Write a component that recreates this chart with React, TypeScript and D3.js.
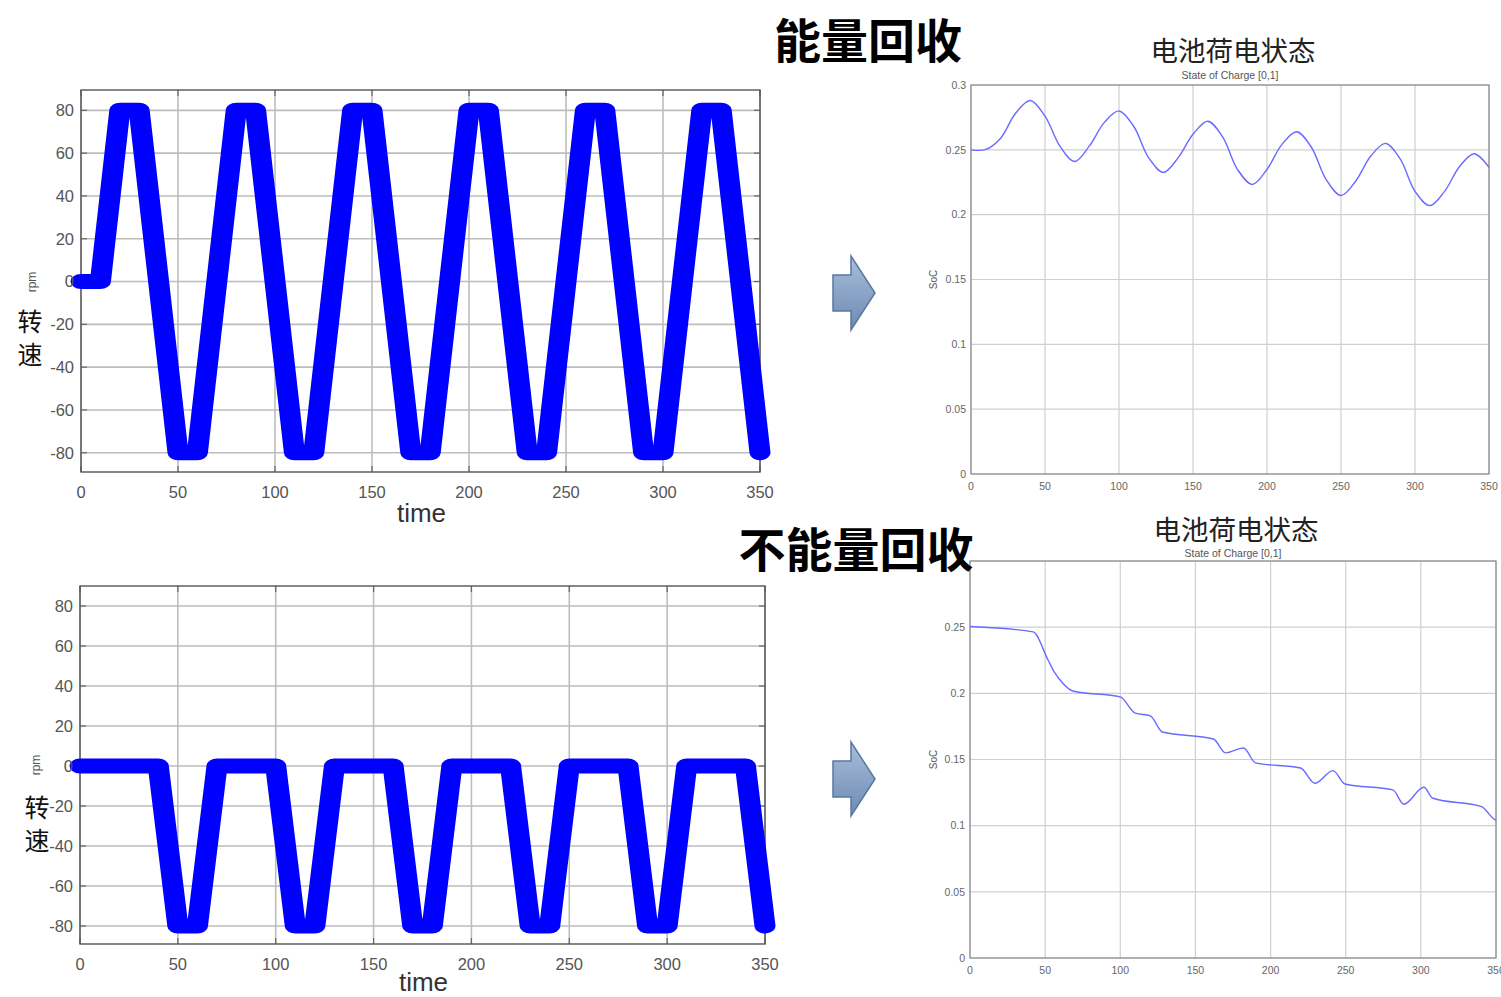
import React from 'react';
import * as d3 from 'd3';

// ---------- data ----------
const rpmTimeTop = [0, 10, 20, 30, 50, 60, 80, 90, 110, 120, 140, 150, 170, 180, 200, 210, 230, 240, 260, 270, 290, 300, 320, 330, 350];
const rpmValueTop = [0, 0, 80, 80, -80, -80, 80, 80, -80, -80, 80, 80, -80, -80, 80, 80, -80, -80, 80, 80, -80, -80, 80, 80, -80];

const rpmTimeBottom = [0, 40, 50, 60, 70, 100, 110, 120, 130, 160, 170, 180, 190, 220, 230, 240, 250, 280, 290, 300, 310, 340, 350];
const rpmValueBottom = [0, 0, -80, -80, 0, 0, -80, -80, 0, 0, -80, -80, 0, 0, -80, -80, 0, 0, -80, -80, 0, 0, -80];

const socTimeTop = [0, 10, 20, 30, 40, 50, 60, 70, 80, 90, 100, 110, 120, 130, 140, 150, 160, 170, 180, 190, 200, 210, 220, 230, 240, 250, 260, 270, 280, 290, 300, 310, 320, 330, 340, 350];
const socValueTop = [0.25, 0.2503, 0.259, 0.278, 0.288, 0.276, 0.253, 0.241, 0.253, 0.271, 0.28, 0.268, 0.244, 0.2326, 0.244, 0.262, 0.272, 0.26, 0.235, 0.2233, 0.235, 0.254, 0.264, 0.252, 0.227, 0.2148, 0.226, 0.245, 0.255, 0.243, 0.218, 0.207, 0.218, 0.237, 0.247, 0.2365];

const socTimeBottom = [0, 42, 52, 56.5, 61, 68.5, 100, 110, 120, 128, 162, 170, 182, 190, 220, 229.5, 241.5, 249.5, 281.4, 288.7, 302, 308, 340.4, 348, 350];
const socValueBottom = [0.2505, 0.2464, 0.225, 0.2154, 0.2086, 0.2018, 0.1973, 0.185, 0.183, 0.1708, 0.1655, 0.155, 0.1587, 0.1474, 0.1436, 0.132, 0.1416, 0.1315, 0.127, 0.1162, 0.129, 0.1207, 0.1144, 0.1056, 0.104];

const timeTicks = [0, 50, 100, 150, 200, 250, 300, 350];
const rpmTicks = [-80, -60, -40, -20, 0, 20, 40, 60, 80];
const socTicks = [0, 0.05, 0.1, 0.15, 0.2, 0.25, 0.3];
const socTicksVisibleBottom = [0, 0.05, 0.1, 0.15, 0.2, 0.25];

const titleTop = '能量回收';
const titleBottom = '不能量回收';
const socTitle = '电池荷电状态';
const socSubtitle = 'State of Charge [0,1]';
const speedLabel = ['转', '速'];

const CJK = '"Noto Sans CJK SC", "Noto Sans", sans-serif';
const SANS = '"Liberation Sans", Arial, sans-serif';

type Pt = { t: number; v: number };
const zip = (ts: number[], vs: number[]): Pt[] => ts.map((t, i) => ({ t, v: vs[i] }));

function RpmPanel({ x0, x1, y0, y1, yDomain, times, values, rpmX, rpmY, zhX, zhY, timeDy }: any) {
  const x = d3.scaleLinear().domain([0, 350]).range([x0, x1]);
  const y = d3.scaleLinear().domain(yDomain).range([y0, y1]);
  const sx = 1.4;
  const line = d3
    .line<Pt>()
    .x((d) => (x(d.t) - x0) / sx)
    .y((d) => y(d.v));
  const data = zip(times, values);
  return (
    <g>
      <rect x={x0} y={y1} width={x1 - x0} height={y0 - y1} fill="#fff" />
      {rpmTicks.map((t) => (
        <line key={'h' + t} x1={x0} x2={x1} y1={y(t)} y2={y(t)} stroke="#bdbdbd" strokeWidth={1.6} />
      ))}
      {timeTicks.map((t) => (
        <line key={'v' + t} x1={x(t)} x2={x(t)} y1={y0} y2={y1} stroke="#bdbdbd" strokeWidth={1.6} />
      ))}
      {rpmTicks.map((t) => (
        <g key={'tk' + t}>
          <line x1={x0} x2={x0 + 6} y1={y(t)} y2={y(t)} stroke="#666" strokeWidth={1.2} />
          <line x1={x1} x2={x1 - 6} y1={y(t)} y2={y(t)} stroke="#666" strokeWidth={1.2} />
        </g>
      ))}
      {timeTicks.map((t) => (
        <g key={'tx' + t}>
          <line x1={x(t)} x2={x(t)} y1={y0} y2={y0 - 6} stroke="#666" strokeWidth={1.2} />
          <line x1={x(t)} x2={x(t)} y1={y1} y2={y1 + 6} stroke="#666" strokeWidth={1.2} />
        </g>
      ))}
      <rect x={x0} y={y1} width={x1 - x0} height={y0 - y1} fill="none" stroke="#555" strokeWidth={1.4} />
      <g transform={`translate(${x0},0) scale(${sx},1)`}>
        <path d={line(data) || ''} fill="none" stroke="#0000ff" strokeWidth={15} strokeLinecap="round" strokeLinejoin="round" />
      </g>
      {rpmTicks.map((t) => (
        <text key={'yl' + t} x={x0 - 7} y={y(t)} dy="0.35em" textAnchor="end" fontFamily={SANS} fontSize={16.5} fill="#555">
          {t}
        </text>
      ))}
      {timeTicks.map((t) => (
        <text key={'xl' + t} x={x(t)} y={y0 + 26} textAnchor="middle" fontFamily={SANS} fontSize={16.5} fill="#555">
          {t}
        </text>
      ))}
      <text x={(x0 + x1) / 2 + 1} y={y0 + timeDy} textAnchor="middle" fontFamily={SANS} fontSize={26} fill="#333">
        time
      </text>
      <text transform={`translate(${rpmX},${rpmY}) rotate(-90)`} textAnchor="middle" fontFamily={SANS} fontSize={12} fill="#555">
        rpm
      </text>
      {speedLabel.map((c, i) => (
        <text key={c} x={zhX} y={zhY + i * 33} textAnchor="middle" dominantBaseline="central" fontFamily={CJK} fontSize={25} fill="#111">
          {c}
        </text>
      ))}
    </g>
  );
}

function SocPanel({ x0, x1, y0, y1, times, values, curve, titleY, subY, socX, yLabels }: any) {
  const x = d3.scaleLinear().domain([0, 350]).range([x0, x1]);
  const y = d3.scaleLinear().domain([0, 0.3]).range([y0, y1]);
  const line = d3
    .line<Pt>()
    .x((d) => x(d.t))
    .y((d) => y(d.v))
    .curve(curve);
  const data = zip(times, values);
  return (
    <g>
      {socTicks.map((t) => (
        <line key={'h' + t} x1={x0} x2={x1} y1={y(t)} y2={y(t)} stroke="#cfcfcf" strokeWidth={1.2} />
      ))}
      {timeTicks.map((t) => (
        <line key={'v' + t} x1={x(t)} x2={x(t)} y1={y0} y2={y1} stroke="#cfcfcf" strokeWidth={1.2} />
      ))}
      <rect x={x0} y={y1} width={x1 - x0} height={y0 - y1} fill="none" stroke="#8a8a8a" strokeWidth={1.2} />
      <path d={line(data) || ''} fill="none" stroke="#6a6aff" strokeWidth={1.4} />
      {yLabels.map((t: number) => (
        <text key={'yl' + t} x={x0 - 5} y={y(t)} dy="0.35em" textAnchor="end" fontFamily={SANS} fontSize={10.5} fill="#666">
          {d3.format('~g')(t)}
        </text>
      ))}
      {timeTicks.map((t) => (
        <text key={'xl' + t} x={x(t)} y={y0 + 16} textAnchor="middle" fontFamily={SANS} fontSize={10.5} fill="#666">
          {t}
        </text>
      ))}
      <text transform={`translate(${socX},${(y0 + y1) / 2}) rotate(-90)`} textAnchor="middle" fontFamily={SANS} fontSize={10} fill="#555">
        SoC
      </text>
      <text x={(x0 + x1) / 2 + 3} y={titleY} textAnchor="middle" dominantBaseline="central" fontFamily={CJK} fontSize={27.5} fill="#222">
        {socTitle}
      </text>
      <text x={(x0 + x1) / 2} y={subY} textAnchor="middle" fontFamily={SANS} fontSize={10.5} fill="#555">
        {socSubtitle}
      </text>
    </g>
  );
}

function Arrow({ cx, cy, id }: { cx: number; cy: number; id: string }) {
  const pts = [
    [cx - 21, cy - 18],
    [cx - 3, cy - 18],
    [cx - 3, cy - 37],
    [cx + 21, cy],
    [cx - 3, cy + 37],
    [cx - 3, cy + 18],
    [cx - 21, cy + 18],
  ];
  return (
    <g>
      <defs>
        <linearGradient id={id} x1="0" y1="0" x2="0" y2="1">
          <stop offset="0" stopColor="#a9bedb" />
          <stop offset="1" stopColor="#6d8ab3" />
        </linearGradient>
      </defs>
      <polygon points={pts.map((p) => p.join(',')).join(' ')} fill={`url(#${id})`} stroke="#5a779e" strokeWidth={1.5} />
    </g>
  );
}

export default function App() {
  return (
    <svg width={1501} height={997} style={{ position: 'fixed', left: 0, top: 0, background: '#fff' }}>
      <rect x={0} y={0} width={1501} height={997} fill="#fff" />
      <RpmPanel x0={81} x1={760} y0={472} y1={90} yDomain={[-89, 89.5]} times={rpmTimeTop} values={rpmValueTop} rpmX={36} rpmY={282} zhX={30} zhY={320} timeDy={50} />
      <RpmPanel x0={80} x1={765} y0={944} y1={586} yDomain={[-89, 90]} times={rpmTimeBottom} values={rpmValueBottom} rpmX={40} rpmY={765} zhX={37} zhY={806} timeDy={47} />
      <SocPanel x0={971} x1={1489} y0={474} y1={85} times={socTimeTop} values={socValueTop} curve={d3.curveCatmullRom.alpha(0.5)} titleY={49} subY={79} socX={937} yLabels={socTicks} />
      <SocPanel x0={970} x1={1496} y0={958} y1={561} times={socTimeBottom} values={socValueBottom} curve={d3.curveMonotoneX} titleY={528} subY={557} socX={937} yLabels={socTicksVisibleBottom} />
      <Arrow cx={854} cy={293} id="ga1" />
      <Arrow cx={854} cy={779} id="ga2" />
      <text x={868} y={37} textAnchor="middle" dominantBaseline="central" fontFamily={CJK} fontWeight="bold" fontSize={47} fill="#000">
        {titleTop}
      </text>
      <text x={856} y={546} textAnchor="middle" dominantBaseline="central" fontFamily={CJK} fontWeight="bold" fontSize={47} fill="#000">
        {titleBottom}
      </text>
    </svg>
  );
}
